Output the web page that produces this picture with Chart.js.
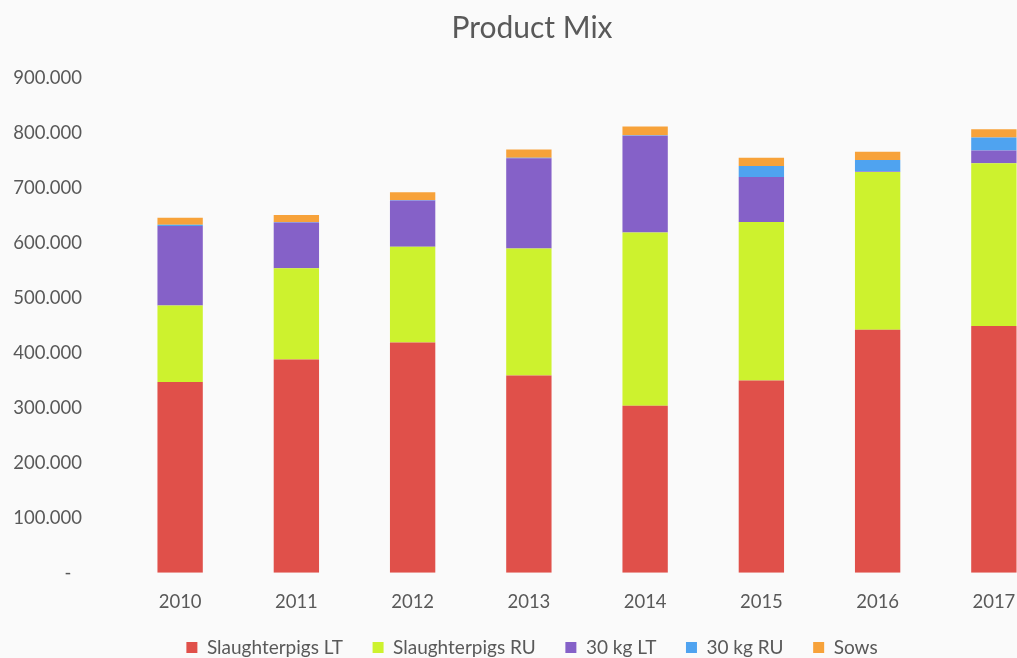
<!DOCTYPE html>
<html>
<head>
<meta charset="utf-8">
<title>Product Mix</title>
<script src="https://cdn.jsdelivr.net/npm/chart.js@4.4.0/dist/chart.umd.min.js"></script>
<style>
  html, body { margin: 0; padding: 0; background: #fafafa; overflow: hidden; }
  #wrap { position: absolute; left: 0; top: 0; width: 1070px; height: 658px; }
</style>
</head>
<body>
<div id="wrap"><canvas id="mix-chart" width="1070" height="658"></canvas></div>
<script>
const years = ["2010", "2011", "2012", "2013", "2014", "2015", "2016", "2017"];

const slaughterLT = [347000, 388000, 419000, 359000, 304000, 350000, 442000, 449000];
const slaughterRU = [139000, 166000, 174000, 231000, 315000, 288000, 287000, 296000];
const kg30LT      = [145000, 83000, 84000, 164000, 176000, 82000, 1000, 23000];
const kg30RU      = [2000, 1000, 1000, 1000, 1000, 20000, 21000, 24000];
const sows        = [13000, 13000, 14000, 15000, 16000, 15000, 15000, 15000];

const yTicks = [0, 100000, 200000, 300000, 400000, 500000, 600000, 700000, 800000, 900000];

const grey = '#595959';
const fontFamily = 'Lato, "Open Sans", sans-serif';

// 900000 -> "900.000", zero shown as a dash
function fmt(v) {
    if (v === 0) return '-\u2007';
    return new Intl.NumberFormat('de-DE').format(v);
}

document.addEventListener('DOMContentLoaded', () => {
    const ctx = document.getElementById('mix-chart').getContext('2d');

    const series = [
        { label: "Slaughterpigs LT", data: slaughterLT, color: '#E0504A' },
        { label: "Slaughterpigs RU", data: slaughterRU, color: '#CDF22E' },
        { label: "30 kg LT",         data: kg30LT,      color: '#8561C8' },
        { label: "30 kg RU",         data: kg30RU,      color: '#4FA3F0' },
        { label: "Sows",             data: sows,        color: '#F7A23A' },
    ];

    new Chart(ctx, {
        type: 'bar',
        data: {
            labels: years,
            datasets: series.map(s => ({
                label: s.label,
                data: s.data,
                backgroundColor: s.color,
                borderWidth: 0,
                barPercentage: 0.39,
                categoryPercentage: 1,
            }))
        },
        options: {
            responsive: false,
            animation: false,
            devicePixelRatio: 1,
            layout: { padding: { left: 12, right: 18, top: 0, bottom: -9 } },
            plugins: {
                title: {
                    display: true,
                    text: 'Product Mix',
                    color: grey,
                    font: { family: fontFamily, size: 30, weight: 'normal' },
                    padding: { top: 10, bottom: 32 }
                },
                legend: {
                    position: 'bottom',
                    labels: {
                        color: grey,
                        font: { family: fontFamily, size: 19 },
                        boxWidth: 11,
                        boxHeight: 11,
                        padding: 15,
                        // extra room between legend entries
                        generateLabels: chart => {
                            const items = Chart.defaults.plugins.legend.labels.generateLabels(chart);
                            items.forEach((it, i) => {
                                if (i < items.length - 1) it.text += '   ';
                            });
                            return items;
                        }
                    }
                },
                tooltip: { enabled: false }
            },
            scales: {
                x: {
                    stacked: true,
                    grid: { display: false },
                    border: { display: false },
                    ticks: {
                        color: grey,
                        padding: 10,
                        font: { family: fontFamily, size: 18.5 }
                    }
                },
                y: {
                    stacked: true,
                    min: 0,
                    max: 900000,
                    afterFit: scale => { scale.width = 110; },
                    afterBuildTicks: scale => {
                        scale.ticks = yTicks.map(v => ({ value: v }));
                    },
                    grid: { display: false, drawTicks: false },
                    border: { display: false },
                    ticks: {
                        color: grey,
                        padding: 40,
                        font: { family: fontFamily, size: 18.5 },
                        callback: v => fmt(v)
                    }
                }
            }
        }
    });
});
</script>
</body>
</html>
